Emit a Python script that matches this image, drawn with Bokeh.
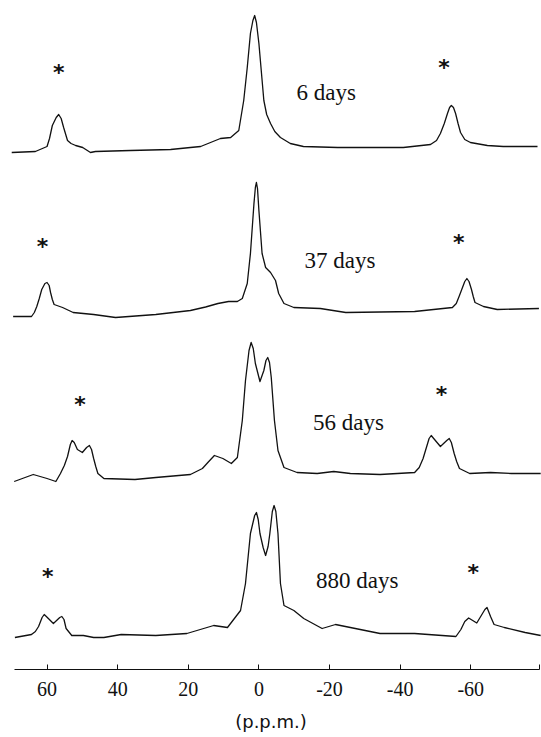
from bokeh.plotting import figure
from bokeh.models import Range1d, FixedTicker
from bokeh.core.properties import value
from bokeh.embed import file_html
from bokeh.resources import INLINE

# ---------------- data (chemical shift in p.p.m., intensity in arbitrary units) ----------------
ppm_6 = [70.0, 63.3, 60.0, 59.3, 58.5, 57.4, 56.7, 56.0, 55.3, 54.2, 53.2, 51.9, 49.9, 47.7, 46.3,
         36.4, 25.0, 19.4, 16.5, 13.7, 10.9, 8.0, 5.7, 4.3, 3.3, 2.4, 1.7, 1.2, 0.7, 0.0, -1.4,
         -2.2, -3.3, -4.5, -6.1, -8.9, -12.6, -22.3, -40.9, -48.6, -50.3, -51.4, -52.5, -53.4,
         -54.0, -54.5, -55.1, -55.7, -56.4, -57.1, -58.3, -59.9, -64.7, -69.2, -78.9]
int_6 = [0, 1, 6, 14, 27, 35, 38, 34, 25, 12, 9, 7, 5, 0, 1,
         2, 3, 5, 6, 10, 14, 15, 22, 52, 85, 119, 132, 137, 130, 109, 52,
         38, 29, 21, 15, 9, 6, 5, 5, 8, 12, 19, 29, 39,
         45, 47, 45, 39, 29, 20, 13, 10, 7, 6, 6]

ppm_37 = [69.6, 64.4, 63.6, 62.9, 62.2, 61.5, 60.6, 60.0, 59.4, 59.0, 58.5, 58.0, 55.6, 52.6,
          46.8, 40.6, 29.2, 19.4, 15.1, 11.6, 8.6, 6.1, 4.7, 3.3, 2.4, 1.4, 1.0, 0.7, 0.4,
          0.0, -0.9, -1.9, -3.3, -4.7, -5.6, -7.1, -9.9, -17.4, -24.6, -44.1, -54.8, -55.9,
          -56.8, -58.3, -58.9, -59.5, -60.2, -60.7, -61.2, -63.6, -67.5, -79.3]
int_37 = [-2, -2, 2, 8, 16, 25, 31, 32, 29, 22, 15, 10, 7, 2,
          0, -3, 0, 4, 7.5, 11, 13, 13, 16, 31, 61, 111, 127, 132, 126,
          104, 61, 47, 42, 34, 21, 11, 7, 6, 2, 3, 7, 11,
          19, 33, 36, 33, 25, 18, 12, 8, 5, 6]

ppm_56 = [69.3, 63.9, 60.0, 57.5, 56.2, 55.1, 54.2, 53.4, 52.9, 52.3, 51.4, 50.0, 48.8, 48.0,
          47.4, 46.8, 46.2, 45.6, 43.9, 35.1, 29.2, 19.4, 16.0, 14.2, 12.6, 10.2, 7.8, 6.1,
          4.7, 3.8, 2.8, 2.2, 1.6, 1.0, -0.3, -1.4, -2.0, -2.5, -3.0, -3.5, -4.4, -5.4, -7.1,
          -10.8, -16.5, -21.2, -25.9, -34.3, -44.1, -45.4, -46.5, -48.2, -48.8, -49.5, -51.4,
          -53.2, -53.9, -54.5, -55.3, -56.0, -56.8, -59.7, -65.6, -71.5, -79.8]
int_56 = [-3, 4, 0, -3, 5, 13, 22, 34, 38, 36, 29, 26, 31, 33,
          29, 20, 12, 5, 0, -1, 1, 4, 10, 17, 23, 20, 15, 21,
          58, 98, 128, 136, 130, 115, 97, 108, 118, 121, 116, 101, 58, 28, 11,
          6, 5, 7, 5, 4, 6, 11, 20, 40, 43, 40, 32,
          38, 40, 36, 25, 17, 10, 5, 6, 5, 5]

ppm_880 = [69.1, 64.4, 63.3, 62.4, 61.4, 60.8, 60.2, 58.2, 56.4, 55.8, 55.2, 54.6, 53.0, 49.7,
           46.8, 43.9, 39.0, 29.2, 20.4, 12.8, 8.9, 5.2, 3.8, 2.4, 1.2, 0.7, 0.2, -0.3, -1.2,
           -1.9, -2.6, -3.1, -3.8, -4.3, -4.8, -5.4, -6.1, -7.1, -9.9, -12.7, -17.9, -21.7,
           -25.9, -34.3, -44.1, -55.8, -57.2, -58.3, -59.4, -61.7, -64.0, -64.6, -65.6, -66.6,
           -69.5, -75.4, -79.8]
int_880 = [-2, 1, 4, 9, 18, 21, 19, 12, 18, 19, 16, 7, 0, 0,
           -2, -2, 1, 0, 2, 10, 8, 25, 52, 102, 120, 123, 116, 102, 88,
           80, 89, 102, 124, 130, 124, 102, 52, 30, 25, 17, 7, 11,
           8, 2, 2, -1, 6, 14, 17.5, 12.5, 26, 28, 19, 11,
           8, 3, 0]

labels = ["6 days", "37 days", "56 days", "880 days"]
tick_values = [60, 40, 20, 0, -20, -40, -60]
tick_labels = ["60", "40", "20", "0", "-20", "-40", "-60"]

# ---------------- layout (stacking & annotation placement) ----------------
offsets = [517, 355, 191, 34]
label_x = [-10.65, -12.9, -15.3, -16.2]
label_y = [577.5, 409, 247.5, 89.5]
star_x = [56.7, -52.4, 61.3, -56.6, 50.7, -51.7, 59.8, -60.7]
star_y = [596.7, 601.7, 423.1, 427.2, 265.0, 275.5, 93.3, 96.7]
axis_end = -79.5
axis_start = 69.1

p = figure(width=541, height=737, output_backend="svg", toolbar_location=None,
           x_range=Range1d(73.18, -80.03), y_range=Range1d(0, 669),
           min_border_left=0, min_border_right=0, min_border_top=0, min_border_bottom=68)
p.yaxis.visible = False
p.grid.visible = False
p.outline_line_color = None
p.background_fill_color = "white"
p.border_fill_color = "white"

series = [(ppm_6, int_6), (ppm_37, int_37), (ppm_56, int_56), (ppm_880, int_880)]
for (xs, ys), off in zip(series, offsets):
    p.line(xs, [off + v for v in ys], line_color="#111111", line_width=1.3,
           line_join="round")

p.text(x=label_x, y=label_y, text=labels, text_font=value("Liberation Serif"),
       text_font_size=value("23px"), text_align="left", text_baseline="alphabetic",
       text_color="#111111")
p.text(x=star_x, y=star_y, text=["*"] * len(star_x), text_font=value("DejaVu Sans"),
       text_font_style="bold", text_font_size=value("22px"), text_align="center",
       text_baseline="middle", text_color="#111111")

ax = p.xaxis[0]
ax.ticker = FixedTicker(ticks=tick_values + [axis_end])
overrides = {t: l for t, l in zip(tick_values, tick_labels)}
overrides[axis_end] = ""
ax.major_label_overrides = overrides
ax.bounds = (axis_end, axis_start)
ax.major_tick_in = 5
ax.major_tick_out = 0
ax.minor_tick_line_color = None
ax.axis_line_color = "#111111"
ax.major_tick_line_color = "#111111"
ax.major_label_text_font = "Liberation Serif"
ax.major_label_text_font_size = "20px"
ax.major_label_text_color = "#111111"
ax.major_label_standoff = 12
ax.axis_label = "(p.p.m.)"
ax.axis_label_text_font = "DejaVu Sans"
ax.axis_label_text_font_style = "normal"
ax.axis_label_text_font_size = "18px"
ax.axis_label_text_color = "#111111"
ax.axis_label_standoff = 12

open("out.html", "w").write(file_html(p, INLINE))
